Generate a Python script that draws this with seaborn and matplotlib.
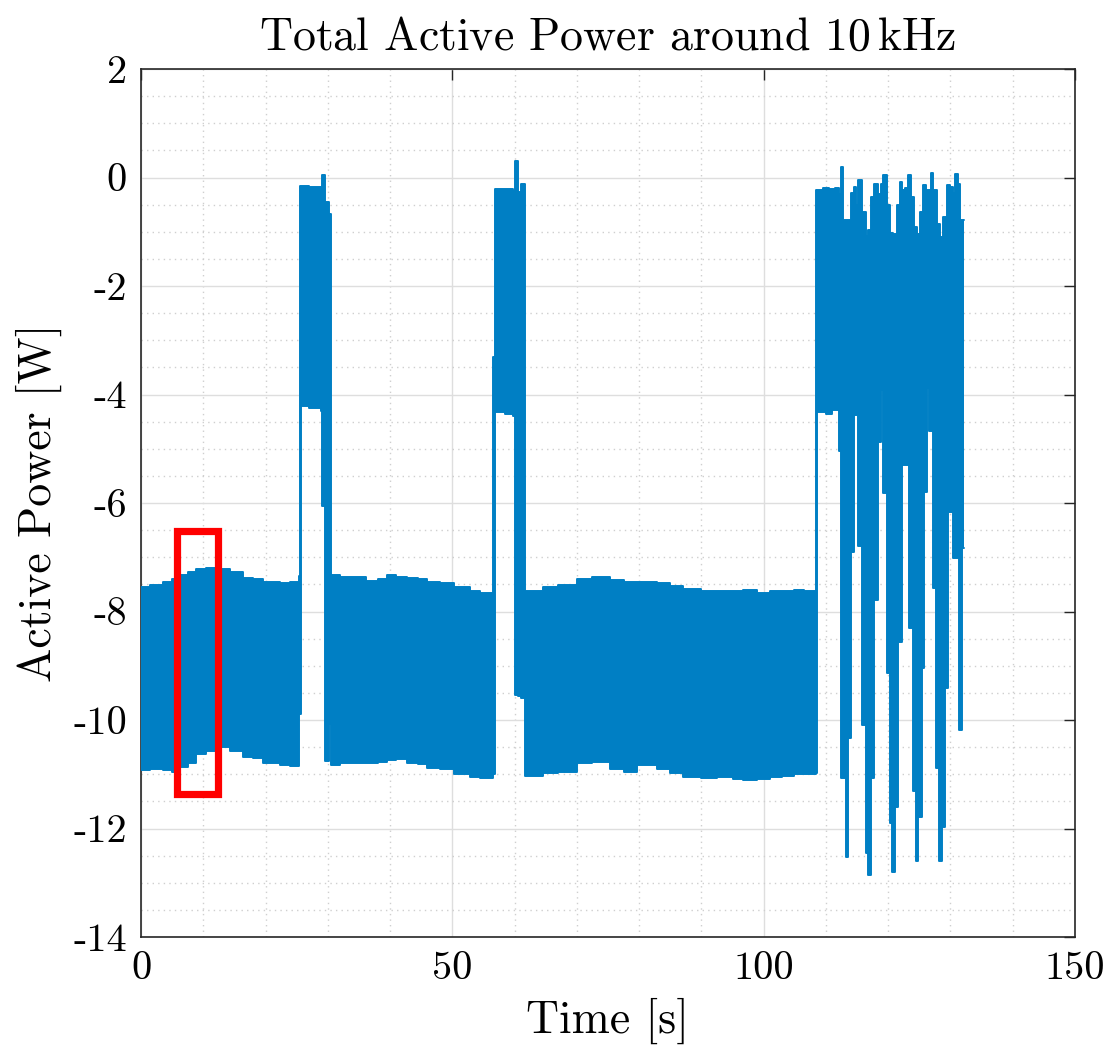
import matplotlib
matplotlib.use("Agg")
import matplotlib.pyplot as plt
from matplotlib.patches import Rectangle
from matplotlib.ticker import MultipleLocator
import numpy as np
import seaborn as sns

# Each block: breakpoint times [s], upper and lower envelope [W] (step-post).
quiet1_t = [0.0, 1.5, 3.6, 5.0, 6.3, 7.5, 8.9, 10.5, 12.2, 14.3, 16.4, 18.0, 19.6, 22.3, 24.0, 25.3]
quiet1_hi = [-7.55, -7.52, -7.45, -7.40, -7.32, -7.28, -7.22, -7.20, -7.22, -7.28, -7.38, -7.40, -7.45, -7.47, -7.45, -7.35]
quiet1_lo = [-10.92, -10.90, -10.92, -10.95, -10.86, -10.80, -10.62, -10.58, -10.50, -10.58, -10.68, -10.70, -10.80, -10.83, -10.85, -9.88]

burst1_t = [25.6, 25.75, 27.0, 28.9, 29.1, 29.5, 30.2]
burst1_hi = [-0.15, -0.15, -0.18, -0.20, 0.05, -0.45, -0.67]
burst1_lo = [-9.88, -4.22, -4.25, -4.30, -6.05, -10.76, -10.07]

quiet2_t = [30.5, 32.0, 34.1, 36.2, 38.0, 39.5, 41.0, 42.7, 44.5, 45.9, 48.0, 50.2, 52.8, 54.5]
quiet2_hi = [-7.33, -7.36, -7.36, -7.43, -7.40, -7.33, -7.36, -7.38, -7.40, -7.45, -7.47, -7.55, -7.62, -7.66]
quiet2_lo = [-10.83, -10.80, -10.80, -10.80, -10.78, -10.73, -10.72, -10.80, -10.82, -10.88, -10.90, -11.00, -11.05, -11.07]

burst2_t = [56.6, 56.9, 58.5, 59.8, 60.1, 60.5, 61.0]
burst2_hi = [-3.31, -0.22, -0.22, -0.25, 0.31, -0.26, -0.11]
burst2_lo = [-11.00, -4.33, -4.35, -4.40, -9.54, -9.55, -9.60]

quiet3_t = [61.67, 64.6, 67.0, 70.0, 72.5, 75.3, 77.5, 79.6, 82.8, 85.0, 87.1, 90.0, 92.5, 95.0, 96.7, 99.0, 101.0, 103.0, 104.8, 106.5]
quiet3_hi = [-7.63, -7.55, -7.51, -7.40, -7.36, -7.42, -7.45, -7.45, -7.47, -7.53, -7.58, -7.62, -7.63, -7.63, -7.60, -7.65, -7.62, -7.62, -7.60, -7.62]
quiet3_lo = [-11.04, -10.98, -10.95, -10.80, -10.77, -10.90, -10.95, -10.83, -10.90, -10.98, -11.05, -11.07, -11.05, -11.08, -11.10, -11.08, -11.05, -11.03, -11.00, -10.99]

burst3_hi_t = [108.4, 109.5, 110.5, 111.5, 112.1, 112.5, 112.8, 113.95, 114.5, 114.9, 115.2, 115.8,
               116.4, 116.8, 117.2, 117.8, 118.3, 118.85, 119.2, 119.75, 120.28, 120.8, 121.35, 121.9,
               122.3, 122.7, 123.2, 123.6, 124.1, 124.57, 125.1, 125.6, 126.06, 126.86, 127.25, 127.8,
               128.3, 128.85, 129.4, 129.9, 130.4, 130.8, 131.25, 131.6, 132.17]
burst3_hi = [-0.23, -0.20, -0.22, -0.20, -0.30, 0.20, -0.78, -0.28, -0.17, -0.50, -0.05, -0.63,
             -1.08, -0.97, -0.36, -0.12, -0.30, -0.12, 0.05, -0.50, -1.02, -1.05, -0.50, -0.08,
             -0.23, -0.20, 0.05, -0.36, -0.91, -1.05, -0.63, -0.14, -0.23, 0.08, -0.23, -0.86,
             -1.09, -0.72, -0.14, -0.17, -0.28, 0.06, -0.12, -0.78, -0.78]
burst3_lo_t = [108.4, 108.6, 110.0, 111.0, 112.1, 112.5, 113.2, 113.5, 113.95, 114.5, 115.2, 115.8,
               116.4, 116.8, 117.2, 117.8, 118.3, 118.85, 119.2, 119.75, 120.28, 120.55, 121.1, 121.62,
               122.15, 123.39, 123.92, 124.45, 124.83, 125.37, 125.8, 126.28, 126.6, 127.13, 127.67,
               128.2, 128.58, 129.1, 129.65, 130.18, 130.45, 131.36, 131.8, 132.17]
burst3_lo = [-10.98, -4.32, -4.35, -4.28, -5.05, -11.07, -12.52, -10.33, -6.90, -4.38, -6.80, -10.09,
             -12.46, -12.86, -11.07, -7.79, -4.87, -3.92, -5.82, -9.13, -11.90, -12.80, -11.60, -8.56,
             -5.30, -8.30, -11.30, -12.60, -11.78, -9.04, -5.79, -3.88, -4.68, -7.57, -10.88,
             -12.60, -11.97, -9.41, -6.16, -4.10, -7.02, -10.18, -6.83, -6.83]

# highlighted window (red box)
box_t = [5.86, 12.44]
box_p = [-11.36, -6.51]

x_ticks = [0, 50, 100, 150]
y_ticks = [2, 0, -2, -4, -6, -8, -10, -12, -14]

BLUE = "#007FC4"

sns.set_theme(style="white")
plt.rcParams["font.family"] = ["cmr10", "DejaVu Serif"]
plt.rcParams["mathtext.fontset"] = "cm"
plt.rcParams["axes.unicode_minus"] = False
plt.rcParams["axes.formatter.use_mathtext"] = False
plt.rcParams["text.color"] = "black"
plt.rcParams["axes.labelcolor"] = "black"
plt.rcParams["xtick.color"] = "black"
plt.rcParams["ytick.color"] = "black"


def step_lookup(t_break, values, grid):
    idx = np.searchsorted(np.asarray(t_break), grid, side="right") - 1
    return np.asarray(values)[np.clip(idx, 0, len(values) - 1)]


hi_t = np.array(quiet1_t + burst1_t + quiet2_t + burst2_t + quiet3_t + burst3_hi_t)
hi_v = np.array(quiet1_hi + burst1_hi + quiet2_hi + burst2_hi + quiet3_hi + burst3_hi)
lo_t = np.array(quiet1_t + burst1_t + quiet2_t + burst2_t + quiet3_t + burst3_lo_t)
lo_v = np.array(quiet1_lo + burst1_lo + quiet2_lo + burst2_lo + quiet3_lo + burst3_lo)

grid = np.union1d(hi_t, lo_t)
upper = step_lookup(hi_t, hi_v, grid)
lower = step_lookup(lo_t, lo_v, grid)

fig = plt.figure(figsize=(11.12, 10.54), dpi=100)
ax = fig.add_axes([0.1268, 0.111, 0.8399, 0.8235])

ax.fill_between(grid, lower, upper, step="post", color=BLUE, lw=0, zorder=3)
sns.lineplot(x=grid, y=upper, ax=ax, color=BLUE, lw=1.4, estimator=None, sort=False,
             drawstyle="steps-post", zorder=3)
sns.lineplot(x=grid, y=lower, ax=ax, color=BLUE, lw=1.4, estimator=None, sort=False,
             drawstyle="steps-post", zorder=3)

ax.add_patch(Rectangle((box_t[0], box_p[0]), box_t[1] - box_t[0], box_p[1] - box_p[0],
                       fill=False, edgecolor="#FF0000", lw=5.2, zorder=5))

ax.set_xlim(0, 150)
ax.set_ylim(-14, 2)
ax.set_xticks(x_ticks)
ax.set_yticks(y_ticks)
ax.xaxis.set_minor_locator(MultipleLocator(10))
ax.yaxis.set_minor_locator(MultipleLocator(0.5))

ax.grid(which="major", color="#dedede", lw=1.0, ls="-", zorder=0)
ax.grid(which="minor", color="#cfcfcf", lw=1.0, ls=(0, (1, 3)), zorder=0)
ax.set_axisbelow(True)

ax.tick_params(which="major", direction="in", length=8, width=1.0, color="#262626",
               top=True, right=True, labelsize=29, pad=10, labelcolor="black")
ax.tick_params(which="minor", length=0)
for s in ax.spines.values():
    s.set_color("#262626")
    s.set_linewidth(1.2)

ax.set_xlabel("Time [s]", fontsize=33, labelpad=8)
ax.set_ylabel("Active Power [W]", fontsize=33, labelpad=8)
ax.set_title(r"Total Active Power around 10$\,$kHz", fontsize=33, pad=14)

fig.savefig("out.png", dpi=100)
